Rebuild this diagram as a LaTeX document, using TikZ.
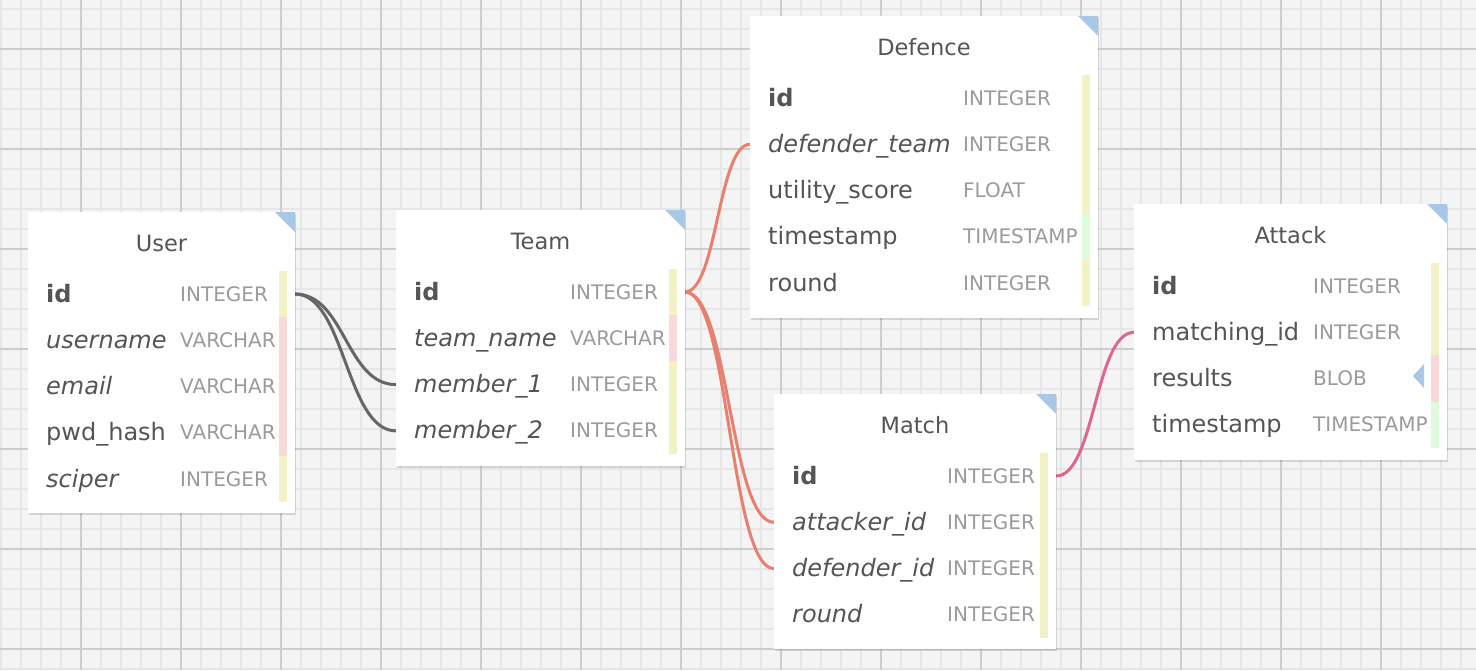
\documentclass[tikz,border=0pt]{standalone}
\usepackage{fontspec}
\setmainfont{DejaVu Sans}
\usetikzlibrary{shadows,calc}
\definecolor{bgc}{HTML}{F4F4F4}
\definecolor{minorc}{HTML}{E6E6E6}
\definecolor{majorc}{HTML}{CDCDCD}
\definecolor{namec}{HTML}{555555}
\definecolor{typec}{HTML}{9B9B9B}
\definecolor{cornerc}{HTML}{A9C8E8}
\definecolor{baryel}{HTML}{F2F2C6}
\definecolor{barpink}{HTML}{F8D8D8}
\definecolor{bargreen}{HTML}{DEFBDE}
\definecolor{linkgray}{HTML}{666666}
\definecolor{linksalmon}{HTML}{E8806F}
\definecolor{linkpink}{HTML}{DF6590}
\pgfdeclarelayer{gridlayer}
\pgfdeclarelayer{linklayer}
\pgfsetlayers{gridlayer,linklayer,main}
\tikzset{
  tablebox/.style={draw=none, fill=white, inner sep=0, outer sep=0, anchor=north west,
    drop shadow={shadow xshift=0.5pt, shadow yshift=-1.5pt, opacity=0.13, fill=black}},
  rowarea/.style={inner sep=0, outer sep=0, minimum height=46.3pt, anchor=west},
  titletext/.style={text=namec, font=\fontsize{22.5}{27}\selectfont, anchor=base, inner sep=0},
  nametext/.style={text=namec, font=\fontsize{24}{28}\selectfont, anchor=base west, inner sep=0},
  typetext/.style={text=typec, font=\fontsize{20}{24}\selectfont, anchor=base west, inner sep=0},
  link/.style={line width=3pt},
  cornertri/.style={fill=cornerc},
}
% #1 name, #2 box left, #3 box width, #4 row centre y, #5 field, #6 type x, #7 type, #8 bar colour
\newcommand{\dbrow}[8]{%
  \node[rowarea, minimum width=#3] (#1) at (#2,#4) {};
  \node[nametext] (#1-name) at (#2+18,#4+8) {#5};
  \node[typetext] (#1-type) at (#6,#4+7) {#7};
  \fill[#8] ($(#1.east)+(-16,-23.15)$) rectangle ++(8,46.3);
}
\begin{document}
\begin{tikzpicture}[x=1pt,y=-1pt]
\useasboundingbox (0,0) rectangle (1476,670);
\begin{pgfonlayer}{gridlayer}
  \fill[bgc] (0,0) rectangle (1476,670);
  \foreach \x in {1,21,...,1461} \draw[minorc, line width=2pt] (\x,0) -- (\x,670);
  \foreach \y in {9,29,...,669} \draw[minorc, line width=2pt] (0,\y) -- (1476,\y);
  \foreach \x in {81,181,...,1381} \draw[majorc, line width=2pt] (\x,0) -- (\x,670);
  \foreach \y in {49,149,...,649} \draw[majorc, line width=2pt] (0,\y) -- (1476,\y);
\end{pgfonlayer}

% ---------- User ----------
\node[tablebox, minimum width=267, minimum height=301] (user) at (28,212) {};
\fill[cornertri] (user.north east) -- ++(-20,0) -- ++(20,20) -- cycle;
\node[titletext] (user-title) at (161.5,251) {User};
\dbrow{user-id}{28}{267}{294}{\bfseries id}{180}{INTEGER}{baryel}
\dbrow{user-un}{28}{267}{340.3}{\itshape username}{180}{VARCHAR}{barpink}
\dbrow{user-em}{28}{267}{386.6}{\itshape email}{180}{VARCHAR}{barpink}
\dbrow{user-pw}{28}{267}{432.9}{pwd\_hash}{180}{VARCHAR}{barpink}
\dbrow{user-sc}{28}{267}{479.2}{\itshape sciper}{180}{INTEGER}{baryel}

% ---------- Team ----------
\node[tablebox, minimum width=289, minimum height=256] (team) at (396,210) {};
\fill[cornertri] (team.north east) -- ++(-20,0) -- ++(20,20) -- cycle;
\node[titletext] (team-title) at (540.5,249) {Team};
\dbrow{team-id}{396}{289}{292}{\bfseries id}{570}{INTEGER}{baryel}
\dbrow{team-tn}{396}{289}{338.3}{\itshape team\_name}{570}{VARCHAR}{barpink}
\dbrow{team-m1}{396}{289}{384.6}{\itshape member\_1}{570}{INTEGER}{baryel}
\dbrow{team-m2}{396}{289}{430.9}{\itshape member\_2}{570}{INTEGER}{baryel}

% ---------- Defence ----------
\node[tablebox, minimum width=348, minimum height=302] (defence) at (750,16) {};
\fill[cornertri] (defence.north east) -- ++(-20,0) -- ++(20,20) -- cycle;
\node[titletext] (defence-title) at (924,55) {Defence};
\dbrow{def-id}{750}{348}{98}{\bfseries id}{963}{INTEGER}{baryel}
\dbrow{def-dt}{750}{348}{144.3}{\itshape defender\_team}{963}{INTEGER}{baryel}
\dbrow{def-us}{750}{348}{190.6}{utility\_score}{963}{FLOAT}{baryel}
\dbrow{def-ts}{750}{348}{236.9}{timestamp}{963}{TIMESTAMP}{bargreen}
\dbrow{def-rd}{750}{348}{283.2}{round}{963}{INTEGER}{baryel}

% ---------- Match ----------
\node[tablebox, minimum width=282, minimum height=255] (match) at (774,394) {};
\fill[cornertri] (match.north east) -- ++(-20,0) -- ++(20,20) -- cycle;
\node[titletext] (match-title) at (915,433) {Match};
\dbrow{match-id}{774}{282}{476}{\bfseries id}{947}{INTEGER}{baryel}
\dbrow{match-at}{774}{282}{522.3}{\itshape attacker\_id}{947}{INTEGER}{baryel}
\dbrow{match-df}{774}{282}{568.6}{\itshape defender\_id}{947}{INTEGER}{baryel}
\dbrow{match-rd}{774}{282}{614.9}{\itshape round}{947}{INTEGER}{baryel}

% ---------- Attack ----------
\node[tablebox, minimum width=313, minimum height=256] (attack) at (1134,204) {};
\fill[cornertri] (attack.north east) -- ++(-20,0) -- ++(20,20) -- cycle;
\node[titletext] (attack-title) at (1290.5,243) {Attack};
\dbrow{att-id}{1134}{313}{286}{\bfseries id}{1313}{INTEGER}{baryel}
\dbrow{att-mi}{1134}{313}{332.3}{matching\_id}{1313}{INTEGER}{baryel}
\dbrow{att-rs}{1134}{313}{378.6}{results}{1313}{BLOB}{barpink}
\dbrow{att-ts}{1134}{313}{424.9}{timestamp}{1313}{TIMESTAMP}{bargreen}
\fill[cornertri] (1413,376) -- (1424,364) -- (1424,388) -- cycle;

% ---------- Links ----------
\begin{pgfonlayer}{linklayer}
  \draw[link, linkgray] (user-id.east) .. controls +(50,0) and +(-50,0) .. (team-m1.west);
  \draw[link, linkgray] (user-id.east) .. controls +(50,0) and +(-50,0) .. (team-m2.west);
  \draw[link, linksalmon] (team-id.east) .. controls +(32,0) and +(-32,0) .. (def-dt.west);
  \draw[link, linksalmon] (team-id.east) .. controls +(44,0) and +(-44,0) .. (match-at.west);
  \draw[link, linksalmon] (team-id.east) .. controls +(44,0) and +(-44,0) .. (match-df.west);
  \draw[link, linkpink] (match-id.east) .. controls +(39,0) and +(-39,0) .. (att-mi.west);
\end{pgfonlayer}
\end{tikzpicture}
\end{document}
